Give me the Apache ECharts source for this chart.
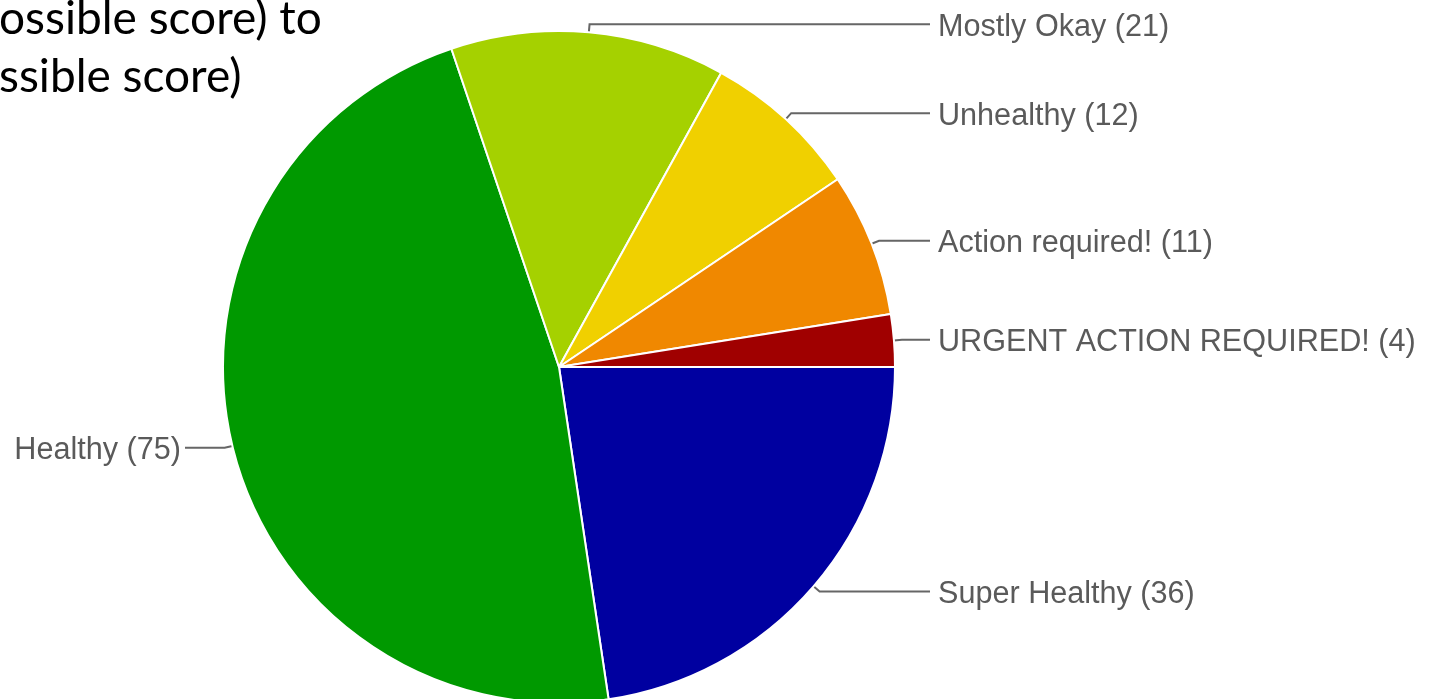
<!DOCTYPE html>
<html>
<head>
<meta charset="utf-8">
<script src="https://cdn.jsdelivr.net/npm/echarts@6/dist/echarts.min.js"></script>
<style>
  html, body { margin: 0; padding: 0; background: #ffffff; }
  #chart { width: 1432px; height: 699px; }
</style>
</head>
<body>
<div id="chart"></div>
<script>
// ---- data ----
const categories = ['Super Healthy', 'Healthy', 'Mostly Okay', 'Unhealthy', 'Action required!', 'URGENT ACTION REQUIRED!'];
const counts = [36, 75, 21, 12, 11, 4];
const sliceColors = ['#0000A0', '#009900', '#A5D100', '#F0D000', '#F08800', '#A00000'];
const titleLines = ['ossible score) to', 'ssible score)'];

const chart = echarts.init(document.getElementById('chart'), null, { renderer: 'canvas' });

const pieData = categories.map((name, i) => ({
  name: name,
  value: counts[i],
  itemStyle: { color: sliceColors[i] }
}));

const option = {
  backgroundColor: '#ffffff',
  animation: false,
  graphic: [
    {
      type: 'text', x: -1, y: -4,
      style: { text: titleLines[0], font: '46px Lato', fill: '#000000', textVerticalAlign: 'top' }
    },
    {
      type: 'text', x: -1, y: 54,
      style: { text: titleLines[1], font: '46px Lato', fill: '#000000', textVerticalAlign: 'top' }
    }
  ],
  series: [{
    type: 'pie',
    center: [559, 367],
    radius: 336,
    startAngle: 0,
    clockwise: true,
    avoidLabelOverlap: false,
    data: pieData,
    itemStyle: { borderColor: '#ffffff', borderWidth: 2 },
    label: {
      show: true,
      formatter: '{b} ({c})',
      color: '#5a5a5a',
      fontFamily: 'Liberation Sans, Arial, sans-serif',
      fontSize: 30.6
    },
    labelLine: {
      show: true,
      length: 8,
      length2: 20,
      lineStyle: { color: '#666666', width: 2 }
    },
    labelLayout: function (params) {
      const pts = params.labelLinePoints;
      if (!pts) return {};
      const p0 = pts[0], p1 = pts[1];
      const right = p1[0] >= p0[0];
      const endX = right ? 930 : 185;
      return {
        x: right ? 938 : 181,
        y: p1[1] + 3,
        align: right ? 'left' : 'right',
        verticalAlign: 'middle',
        labelLinePoints: [p0, p1, [endX, p1[1]]]
      };
    },
    emphasis: { disabled: true }
  }]
};

chart.setOption(option);
</script>
</body>
</html>
